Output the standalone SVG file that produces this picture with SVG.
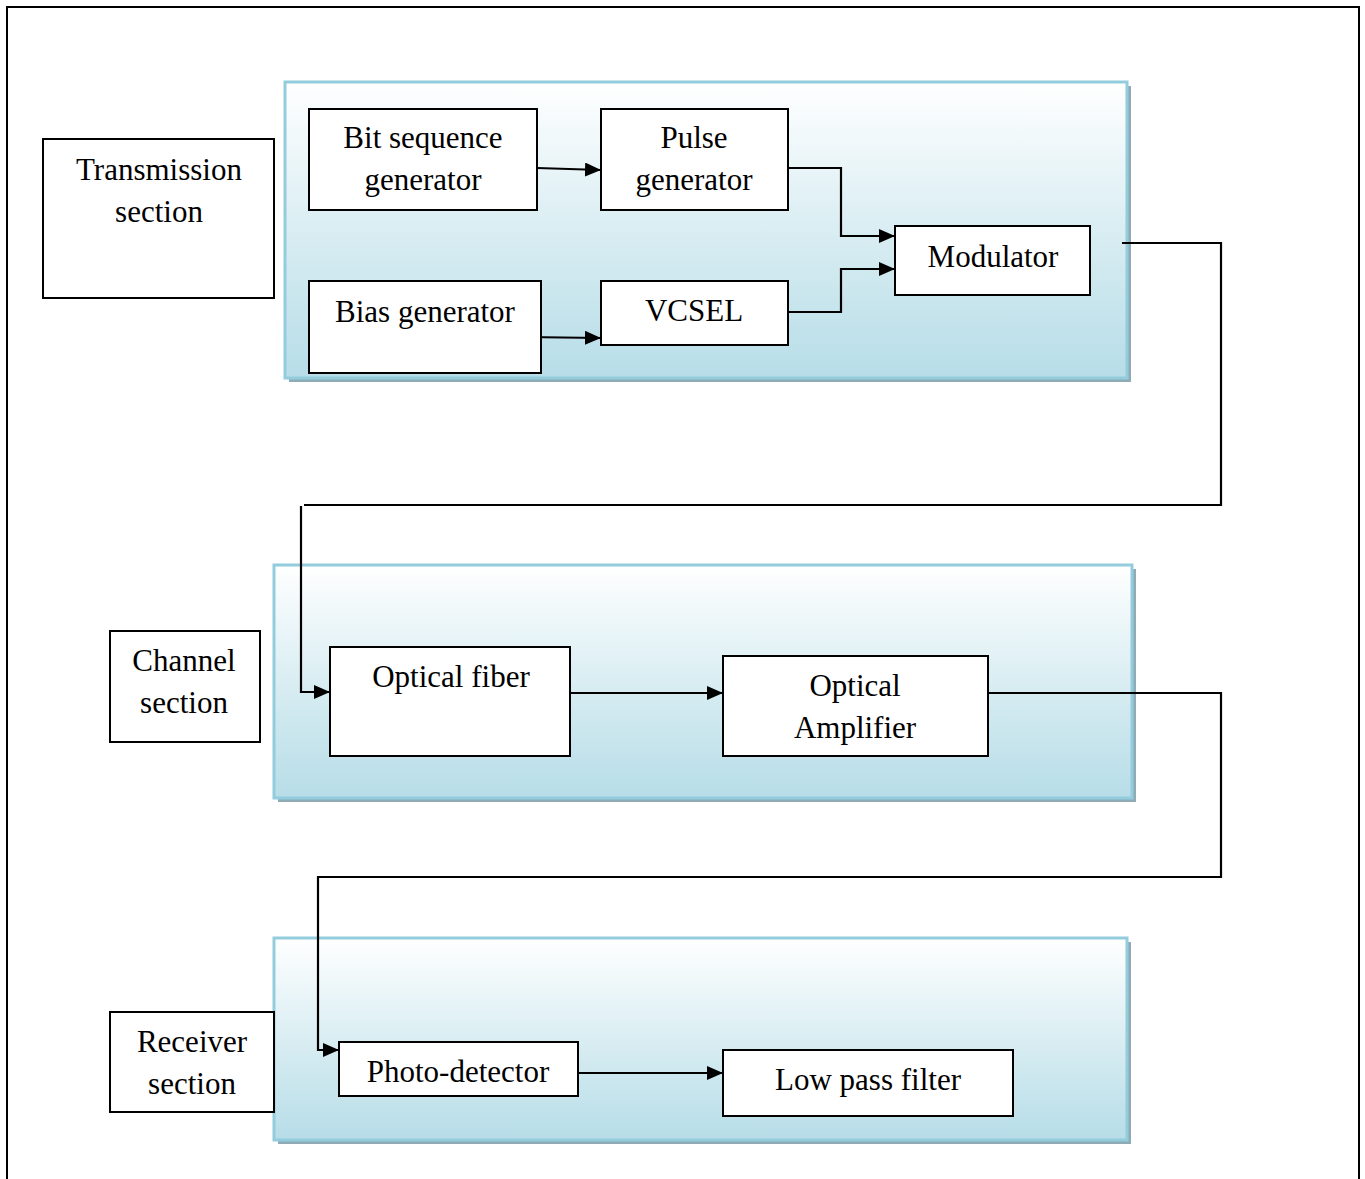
<svg xmlns="http://www.w3.org/2000/svg" width="1365" height="1179" viewBox="0 0 1365 1179">
<defs>
<linearGradient id="pg" x1="0" y1="0" x2="0" y2="1">
<stop offset="0" stop-color="#ffffff"/>
<stop offset="0.6" stop-color="#d2eaf0"/>
<stop offset="1" stop-color="#b7dde8"/>
</linearGradient>
<marker id="ah" markerWidth="16" markerHeight="14" refX="16" refY="7" orient="auto" markerUnits="userSpaceOnUse">
<path d="M0,0 L16,7 L0,14 Z" fill="#000"/>
</marker>
<style>
.panel{fill:url(#pg);stroke:#93cddd;stroke-width:3}
.shadow{fill:#8fabb5}
.box{fill:#fff;stroke:#000;stroke-width:2}
.t{font-family:"Liberation Serif","Times New Roman",serif;font-size:31px;fill:#000;text-anchor:middle}
.c{fill:none;stroke:#000;stroke-width:2.2}
</style>
</defs>
<rect x="0" y="0" width="1365" height="1179" fill="#fff"/>
<path d="M7,1179 L7,7 L1359,7 L1359,1179" fill="none" stroke="#000" stroke-width="2"/>

<g id="panels">
<rect class="shadow" x="289" y="86" width="842" height="296"/>
<rect class="panel" x="285" y="82" width="842" height="296"/>
<rect class="shadow" x="278" y="569" width="858" height="233"/>
<rect class="panel" x="274" y="565" width="858" height="233"/>
<rect class="shadow" x="278" y="942" width="853" height="202"/>
<rect class="panel" x="274" y="938" width="853" height="202"/>
</g>

<g id="connectors">
<path class="c" d="M537,168 L601,170" marker-end="url(#ah)"/>
<path class="c" d="M524,337 L601,338" marker-end="url(#ah)"/>
<path class="c" d="M788,168 L841,168 L841,236 L895,236" marker-end="url(#ah)"/>
<path class="c" d="M788,312 L841,312 L841,269 L895,269" marker-end="url(#ah)"/>
<path class="c" d="M1122,243 L1221,243 L1221,505 L304,505"/>
<path class="c" d="M301,506 L301,692 L330,692" marker-end="url(#ah)"/>
<path class="c" d="M570,693 L723,693" marker-end="url(#ah)"/>
<path class="c" d="M988,693 L1221,693 L1221,877 L318,877 L318,1050 L339,1050" marker-end="url(#ah)"/>
<path class="c" d="M578,1073 L723,1073" marker-end="url(#ah)"/>
</g>

<g id="transmission-section">
<rect class="box" x="43" y="139" width="231" height="159"/>
<text class="t" x="159" y="180">Transmission</text>
<text class="t" x="159" y="222">section</text>
</g>
<g id="bit-sequence-generator">
<rect class="box" x="309" y="109" width="228" height="101"/>
<text class="t" x="423" y="148">Bit sequence</text>
<text class="t" x="423" y="190">generator</text>
</g>
<g id="pulse-generator">
<rect class="box" x="601" y="109" width="187" height="101"/>
<text class="t" x="694" y="148">Pulse</text>
<text class="t" x="694" y="190">generator</text>
</g>
<g id="modulator">
<rect class="box" x="895" y="226" width="195" height="69"/>
<text class="t" x="993" y="267">Modulator</text>
</g>
<g id="bias-generator">
<rect class="box" x="309" y="281" width="232" height="92"/>
<text class="t" x="425" y="322">Bias generator</text>
</g>
<g id="vcsel">
<rect class="box" x="601" y="281" width="187" height="64"/>
<text class="t" x="694" y="321">VCSEL</text>
</g>

<g id="channel-section">
<rect class="box" x="110" y="631" width="150" height="111"/>
<text class="t" x="184" y="671">Channel</text>
<text class="t" x="184" y="713">section</text>
</g>
<g id="optical-fiber">
<rect class="box" x="330" y="647" width="240" height="109"/>
<text class="t" x="451" y="687">Optical fiber</text>
</g>
<g id="optical-amplifier">
<rect class="box" x="723" y="656" width="265" height="100"/>
<text class="t" x="855" y="696">Optical</text>
<text class="t" x="855" y="738">Amplifier</text>
</g>

<g id="receiver-section">
<rect class="box" x="110" y="1012" width="164" height="100"/>
<text class="t" x="192" y="1052">Receiver</text>
<text class="t" x="192" y="1094">section</text>
</g>
<g id="photo-detector">
<rect class="box" x="339" y="1042" width="239" height="54"/>
<text class="t" x="458" y="1082">Photo-detector</text>
</g>
<g id="low-pass-filter">
<rect class="box" x="723" y="1050" width="290" height="66"/>
<text class="t" x="868" y="1090">Low pass filter</text>
</g>
</svg>
